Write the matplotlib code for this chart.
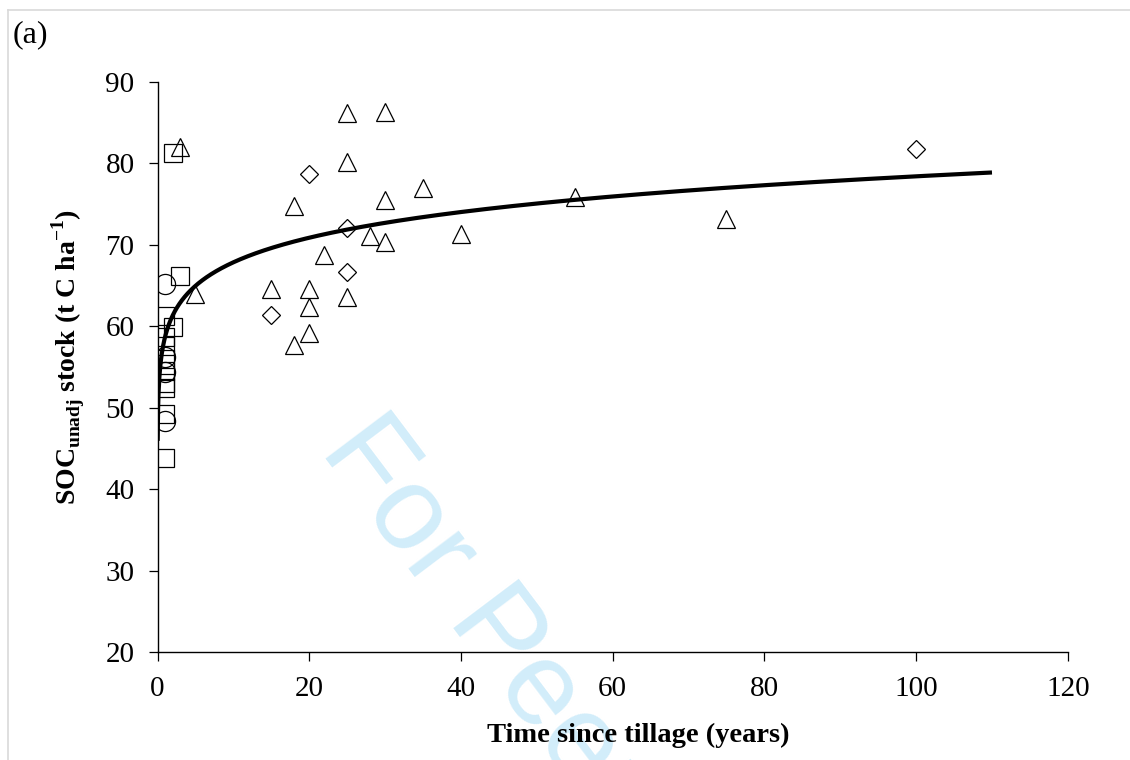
import numpy as np
import matplotlib.pyplot as plt
from matplotlib.lines import Line2D

# Data
tri_x = [3, 5, 15, 18, 18, 20, 20, 20, 22, 25, 25, 25, 28, 30, 30, 30, 35, 40, 55, 75]
tri_y = [82.0, 64.0, 64.6, 74.7, 57.7, 64.6, 62.4, 59.2, 68.7, 86.1, 80.2, 63.6,
         71.0, 86.3, 75.5, 70.3, 77.0, 71.3, 75.9, 73.1]

dia_x = [15, 20, 25, 25, 100]
dia_y = [61.4, 78.7, 72.0, 66.7, 81.8]

sq_x = [1, 1, 1, 1, 1, 1, 1, 1, 1, 2, 2, 3]
sq_y = [61.2, 58.7, 57.5, 56.0, 54.5, 53.0, 52.4, 49.2, 43.8, 59.9, 81.2, 66.2]

circ_x = [1, 1, 1, 1]
circ_y = [65.2, 56.2, 54.4, 48.3]

# power trend line y = a * x^b
fit_a = 58.7
fit_b = 0.0628
fit_xmin, fit_xmax = 0.02, 110

plt.rcParams['font.family'] = ['Liberation Serif', 'DejaVu Serif']
plt.rcParams['mathtext.fontset'] = 'custom'
plt.rcParams['mathtext.rm'] = 'Liberation Serif'
plt.rcParams['mathtext.bf'] = 'Liberation Serif:bold'

fig = plt.figure(figsize=(11.3, 7.6), dpi=100)
ax = fig.add_axes([0.1394, 0.1421, 0.8056, 0.7504])
ax.patch.set_alpha(0)

# watermark
fig.text(0.282, 0.408, 'For Peer Review', fontsize=86, color='#d2edfa',
         family='Liberation Sans', rotation=-53, rotation_mode='anchor',
         ha='left', va='baseline', zorder=-1)

mk = dict(linestyle='none', markerfacecolor='none', markeredgecolor='black',
          markeredgewidth=0.9, markersize=13.5)
ax.plot(sq_x, sq_y, marker='s', **mk)
ax.plot(circ_x, circ_y, marker='o', **{**mk, 'markersize': 14.5})
ax.plot(tri_x, tri_y, marker='^', **mk)
ax.plot(dia_x, dia_y, marker='D', **{**mk, 'markersize': 9.5})

xs = np.linspace(fit_xmin, fit_xmax, 2000)
ax.plot(xs, fit_a * xs ** fit_b, color='black', lw=3, solid_capstyle='butt')

ax.set_xlim(0, 120)
ax.set_ylim(20, 90)
ax.set_xticks(np.arange(0, 121, 20))
ax.set_yticks(np.arange(20, 91, 10))
for s in ['top', 'right']:
    ax.spines[s].set_visible(False)
for s in ['left', 'bottom']:
    ax.spines[s].set_linewidth(1.0)
ax.tick_params(axis='both', direction='out', length=6.5, width=0.9, labelsize=21)
ax.tick_params(axis='x', pad=11)
ax.tick_params(axis='y', pad=10)

ax.set_xlabel('Time since tillage (years)', fontsize=20.5, fontweight='bold')
ax.xaxis.set_label_coords(0.528, -0.125)
ax.set_ylabel(r'SOC$_{\mathbf{unadj}}$ stock (t C ha$^{\mathbf{-1}}$)', fontsize=20,
              fontweight='bold')
ax.yaxis.set_label_coords(-0.077, 0.517)

fig.text(0.0115, 1 - 20 / 760, '(a)', fontsize=23, ha='left', va='top')

# page frame lines
fig.add_artist(Line2D([8 / 1130, 8 / 1130], [0, 1 - 10 / 760], color='#d9d9d9', lw=1.2))
fig.add_artist(Line2D([8 / 1130, 1], [1 - 10 / 760, 1 - 10 / 760], color='#d9d9d9', lw=1.2))

fig.savefig('out.png', dpi=100)
